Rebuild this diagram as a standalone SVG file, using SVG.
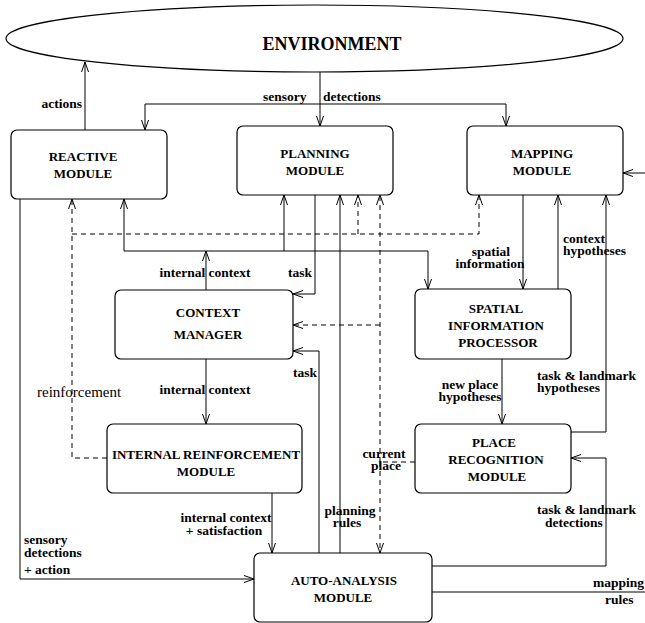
<svg xmlns="http://www.w3.org/2000/svg" width="645" height="623" viewBox="0 0 645 623">
<defs>
<marker id="a" viewBox="-11 -5 12 10" markerWidth="12" markerHeight="10" refX="0" refY="0" orient="auto" markerUnits="userSpaceOnUse">
<path d="M-10,-3.5 L0,0 L-10,3.5" fill="none" stroke="#000" stroke-width="1"/>
</marker>
<style>
.box{fill:#fff;stroke:#000;stroke-width:1.2}
.nt{font-family:"Liberation Serif","Times New Roman",serif;font-weight:bold;font-size:13px;text-anchor:middle;fill:#000}
.lb{font-family:"Liberation Serif","Times New Roman",serif;font-weight:bold;font-size:13.5px;fill:#000}
.c{fill:none;stroke:#000;stroke-width:1}
.d{fill:none;stroke:#000;stroke-width:1;stroke-dasharray:5,4}
.m{text-anchor:middle}
.e{text-anchor:end}
</style>
</defs>
<rect width="645" height="623" fill="#fff"/>
<g id="environment">
<ellipse cx="314.5" cy="38.5" rx="308.5" ry="33.5" fill="#fff" stroke="#000" stroke-width="1.2"/>
<text x="332" y="50" class="nt" style="font-size:18px">ENVIRONMENT</text>
</g>
<g id="connectors">
<path class="c" d="M85,130 V62" marker-end="url(#a)"/>
<path class="c" d="M320,72 V126" marker-end="url(#a)"/>
<path class="c" d="M145,104 H506"/>
<path class="c" d="M145,104 V130" marker-end="url(#a)"/>
<path class="c" d="M506,104 V126" marker-end="url(#a)"/>
<path class="c" d="M645,173 H623" marker-end="url(#a)"/>
<path class="c" d="M206,290 V251" marker-end="url(#a)"/>
<path class="c" d="M124,251 H428 V289" marker-end="url(#a)"/>
<path class="c" d="M124,251 V199" marker-end="url(#a)"/>
<path class="c" d="M284,251 V195" marker-end="url(#a)"/>
<path class="c" d="M315,195 V294 H293" marker-end="url(#a)"/>
<path class="c" d="M340,553 V195" marker-end="url(#a)"/>
<path class="c" d="M319,553 V351 H293" marker-end="url(#a)"/>
<path class="c" d="M206,359 V424" marker-end="url(#a)"/>
<path class="c" d="M272,493 V553" marker-end="url(#a)"/>
<path class="c" d="M20,199 V579 H254" marker-end="url(#a)"/>
<path class="c" d="M523,195 V289" marker-end="url(#a)"/>
<path class="c" d="M558,289 V195" marker-end="url(#a)"/>
<path class="c" d="M502,359 V424" marker-end="url(#a)"/>
<path class="c" d="M571,432 H606 V195" marker-end="url(#a)"/>
<path class="c" d="M432,566 H606 V458 H571" marker-end="url(#a)"/>
<path class="c" d="M432,592 H645"/>
<path class="d" d="M107,458 H72 V199" marker-end="url(#a)"/>
<path class="d" d="M72,234 H479 V195" marker-end="url(#a)"/>
<path class="d" d="M358,234 V195" marker-end="url(#a)"/>
<path class="d" d="M415,462 H380"/>
<path class="d" d="M380,462 V195" marker-end="url(#a)"/>
<path class="d" d="M380,462 V553" marker-end="url(#a)"/>
<path class="d" d="M380,325 H293" marker-end="url(#a)"/>
</g>
<g id="reactive">
<rect class="box" x="11" y="130" width="156" height="69" rx="6"/>
<text class="nt" x="83" y="161">REACTIVE</text>
<text class="nt" x="83" y="178">MODULE</text>
</g>
<g id="planning">
<rect class="box" x="237" y="126" width="156" height="69" rx="6"/>
<text class="nt" x="315" y="158">PLANNING</text>
<text class="nt" x="315" y="175">MODULE</text>
</g>
<g id="mapping">
<rect class="box" x="467" y="126" width="156" height="69" rx="6"/>
<text class="nt" x="542" y="158">MAPPING</text>
<text class="nt" x="542" y="175">MODULE</text>
</g>
<g id="context-manager">
<rect class="box" x="115" y="290" width="178" height="69" rx="6"/>
<text class="nt" x="208" y="317">CONTEXT</text>
<text class="nt" x="208" y="339">MANAGER</text>
</g>
<g id="spatial-processor">
<rect class="box" x="415" y="289" width="156" height="70" rx="6"/>
<text class="nt" x="496" y="313">SPATIAL</text>
<text class="nt" x="496" y="330">INFORMATION</text>
<text class="nt" x="498" y="347">PROCESSOR</text>
</g>
<g id="internal-reinforcement">
<rect class="box" x="107" y="424" width="195" height="69" rx="6"/>
<text class="nt" x="206" y="459">INTERNAL REINFORCEMENT</text>
<text class="nt" x="206" y="476">MODULE</text>
</g>
<g id="place-recognition">
<rect class="box" x="415" y="424" width="156" height="69" rx="6"/>
<text class="nt" x="494" y="447">PLACE</text>
<text class="nt" x="496" y="464">RECOGNITION</text>
<text class="nt" x="497" y="481">MODULE</text>
</g>
<g id="auto-analysis">
<rect class="box" x="254" y="553" width="178" height="69" rx="6"/>
<text class="nt" x="344" y="585">AUTO-ANALYSIS</text>
<text class="nt" x="343" y="602">MODULE</text>
</g>
<g id="labels">
<text class="lb e" x="82" y="108">actions</text>
<text class="lb" x="263" y="101">sensory</text>
<text class="lb" x="323" y="101">detections</text>
<text class="lb m" x="205" y="277">internal context</text>
<text class="lb e" x="312" y="277">task</text>
<text class="lb m" x="205" y="394">internal context</text>
<text class="lb e" x="317" y="377">task</text>
<text x="37" y="397" style="font-family:'Liberation Serif','Times New Roman',serif;font-size:15px;fill:#000">reinforcement</text>
<text class="lb m" x="491" y="256">spatial</text>
<text class="lb m" x="490" y="268">information</text>
<text class="lb" x="563" y="243">context</text>
<text class="lb" x="563" y="255">hypotheses</text>
<text class="lb m" x="470" y="389">new place</text>
<text class="lb m" x="470" y="401">hypotheses</text>
<text class="lb" x="537" y="380">task &amp; landmark</text>
<text class="lb" x="537" y="392">hypotheses</text>
<text class="lb m" x="384" y="458">current</text>
<text class="lb m" x="386" y="470">place</text>
<text class="lb m" x="350" y="515">planning</text>
<text class="lb m" x="347" y="527">rules</text>
<text class="lb" x="537" y="514">task &amp; landmark</text>
<text class="lb" x="545" y="527">detections</text>
<text class="lb" x="593" y="587">mapping</text>
<text class="lb" x="605" y="604">rules</text>
<text class="lb m" x="226" y="522">internal context</text>
<text class="lb m" x="224" y="535">+ satisfaction</text>
<text class="lb" x="24" y="544">sensory</text>
<text class="lb" x="24" y="557">detections</text>
<text class="lb" x="24" y="574">+ action</text>
</g>
</svg>
